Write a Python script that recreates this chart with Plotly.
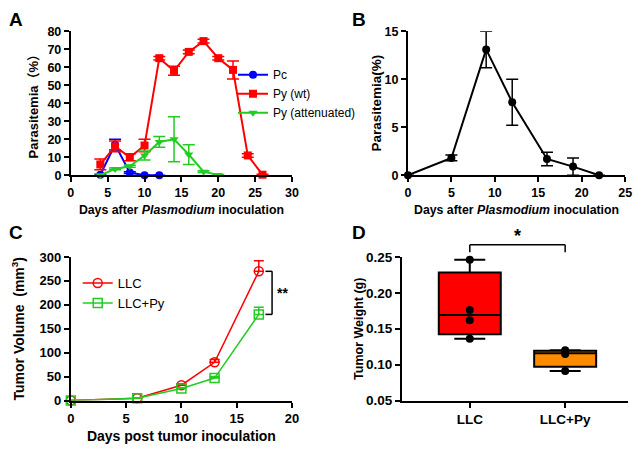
import numpy as np
import plotly.graph_objects as go

W, H = 642, 454

# ---------- Panel A data ----------
a_pc_x = [4, 6, 8, 10, 12]
a_pc_y = [0.3, 17, 1.5, 0, 0]
a_pc_e = [0.3, 3, 0.5, 0, 0]

a_wt_x = [4, 6, 8, 10, 12, 14, 16, 18, 20, 22, 24, 26]
a_wt_y = [6, 16, 10, 16.5, 65, 58, 68.5, 74.5, 65, 58.5, 11, 0.3]
a_wt_e = [3, 3, 2, 3.5, 1, 2.5, 1, 1, 1, 5, 1, 0.3]

a_at_x = [4, 6, 8, 10, 12, 14, 16, 18, 20]
a_at_y = [0, 3.5, 5, 11, 18.5, 20, 11.5, 2, 0.2]
a_at_e = [0, 0.5, 0.5, 2.5, 3, 12.5, 5.5, 0.5, 0.2]

# ---------- Panel B data ----------
b_x = [0, 5, 9, 12, 16, 19, 22]
b_y = [0, 1.8, 13.1, 7.6, 1.7, 0.9, 0]
b_e = [0, 0.3, 1.9, 2.4, 0.7, 0.9, 0]

# ---------- Panel C data ----------
c_x = [0, 6, 10, 13, 17]
c_llc = [0, 5, 32, 80, 270]
c_llc_e = [0, 1, 3, 6, 22]
c_py = [0, 5, 25, 47, 180]
c_py_e = [0, 1, 2, 3, 15]

# ---------- Panel D data ----------
d_llc = [0.246, 0.176, 0.162, 0.136]
d_py = [0.120, 0.117, 0.115, 0.091]
d_cats = ["LLC", "LLC+Py"]

RED = "#FF0000"
BLUE = "#0000FF"
GREEN = "#22CC22"
BLACK = "#000000"
ORANGE = "#FF8C00"

FONT = "Liberation Sans, Arial, Noto Sans CJK SC, sans-serif"

fig = go.Figure()

def err(vals, color, w=6, up_only=False):
    d = dict(type="data", array=vals, visible=True, color=color, thickness=1.5, width=w)
    if up_only:
        d["symmetric"] = False
        d["arrayminus"] = [0] * len(vals)
    return d

# Panel A
fig.add_trace(go.Scatter(x=a_pc_x, y=a_pc_y, error_y=err(a_pc_e, BLUE), mode="lines+markers",
                         name="Pc", line=dict(color=BLUE, width=2), marker=dict(symbol="circle", size=8, color=BLUE),
                         xaxis="x", yaxis="y", legend="legend", cliponaxis=False))
fig.add_trace(go.Scatter(x=a_wt_x, y=a_wt_y, error_y=err(a_wt_e, RED), mode="lines+markers",
                         name="Py (wt)", line=dict(color=RED, width=2), marker=dict(symbol="square", size=8, color=RED),
                         xaxis="x", yaxis="y", legend="legend", cliponaxis=False))
fig.add_trace(go.Scatter(x=a_at_x, y=a_at_y, error_y=err(a_at_e, GREEN), mode="lines+markers",
                         name="Py (attenuated)", line=dict(color=GREEN, width=2),
                         marker=dict(symbol="triangle-down", size=8, color=GREEN),
                         xaxis="x", yaxis="y", legend="legend", cliponaxis=False))

# Panel B
fig.add_trace(go.Scatter(x=b_x, y=b_y, error_y=err(b_e, BLACK), mode="lines+markers", showlegend=False,
                         line=dict(color=BLACK, width=2), marker=dict(symbol="circle", size=8, color=BLACK),
                         xaxis="x2", yaxis="y2", cliponaxis=False))

# Panel C
fig.add_trace(go.Scatter(x=c_x, y=c_llc, error_y=err(c_llc_e, RED, 5, True), mode="lines+markers",
                         name="LLC", line=dict(color=RED, width=1.5),
                         marker=dict(symbol="circle-open", size=9, color=RED, line=dict(width=1.5)),
                         xaxis="x3", yaxis="y3", legend="legend2", cliponaxis=False))
fig.add_trace(go.Scatter(x=c_x, y=c_py, error_y=err(c_py_e, GREEN, 5, True), mode="lines+markers",
                         name="LLC+Py", line=dict(color=GREEN, width=1.5),
                         marker=dict(symbol="square-open", size=9, color=GREEN, line=dict(width=1.5)),
                         xaxis="x3", yaxis="y3", legend="legend2", cliponaxis=False))

# Panel D (quartiles as GraphPad computes them: (n+1)p)
for vals, cat, col in [(d_llc, d_cats[0], RED), (d_py, d_cats[1], ORANGE)]:
    arr = np.array(vals)
    q1 = float(np.percentile(arr, 25, method="weibull"))
    q3 = float(np.percentile(arr, 75, method="weibull"))
    med = float(np.median(arr))
    fig.add_trace(go.Box(x=[cat], q1=[q1], median=[med], q3=[q3],
                         lowerfence=[float(arr.min())], upperfence=[float(arr.max())],
                         name=cat, showlegend=False, boxpoints=False,
                         fillcolor=col, line=dict(color=BLACK, width=2),
                         width=0.65, whiskerwidth=0.5, xaxis="x4", yaxis="y4"))
    fig.add_trace(go.Scatter(x=[cat] * len(vals), y=vals, mode="markers", showlegend=False,
                             marker=dict(color=BLACK, size=8), xaxis="x4", yaxis="y4", cliponaxis=False))

def tf(size):
    return dict(family=FONT, size=size, color=BLACK, weight="bold")

def ax(domain, rng, dtick=None, title=None, anchor=None, tsize=12, lsize=12, standoff=6):
    d = dict(domain=domain, range=rng, showgrid=False, zeroline=False, showline=True,
             linecolor=BLACK, linewidth=2, ticks="outside", ticklen=5, tickwidth=2, tickcolor=BLACK,
             tickfont=tf(tsize), anchor=anchor, fixedrange=True)
    if dtick is not None:
        d["dtick"] = dtick
        d["tick0"] = 0
    if title:
        d["title"] = dict(text=title, font=tf(lsize), standoff=standoff)
    return d

def px_x(p):
    return p / W

def px_y(p):
    return 1 - p / H

xa = [px_x(68), px_x(293)]
xb = [px_x(411), px_x(632)]
xc = [px_x(68), px_x(293)]
xd = [px_x(405), px_x(635)]
ytop = [px_y(174), px_y(25)]
ybot = [px_y(407), px_y(258.5)]

xtitle = "Days after <i>Plasmodium</i> inoculation"

fig.update_layout(
    width=W, height=H, margin=dict(l=0, r=0, t=0, b=0),
    paper_bgcolor="white", plot_bgcolor="white",
    font=dict(family=FONT, color=BLACK),
    xaxis=ax(xa, [0, 30], 5, xtitle, "y", 12.5, 12.3),
    yaxis=ax(ytop, [0, 80], 10, "Parasitemia（%）", "x", 12.5, 13),
    xaxis2=ax(xb, [0, 25], 5, xtitle, "y2", 12.5, 12.3),
    yaxis2=ax(ytop, [0, 15], 5, "Parasitemia(%)", "x2", 12.5, 13.5, 0),
    xaxis3=ax(xc, [0, 20], 5, "Days post tumor inoculation", "y3", 13, 14),
    yaxis3=ax(ybot, [0, 300], 50, "Tumor Volume  (mm<sup>3</sup>)", "x3", 13, 14, 12),
    xaxis4=dict(ax(xd, [-0.71, 1.66], None, None, "y4", 13.5, 12), type="category"),
    yaxis4=dict(ax(ybot, [0.05, 0.25], 0.05, "Tumor Weight (g)", "x4", 13.5, 12.5, 0), tickformat=".2f"),
    legend=dict(x=px_x(233), y=px_y(55), xanchor="left", yanchor="top", bgcolor="rgba(0,0,0,0)",
                font=dict(family=FONT, size=12, color=BLACK), tracegroupgap=0),
    legend2=dict(x=px_x(75), y=px_y(270), xanchor="left", yanchor="top", bgcolor="rgba(0,0,0,0)",
                 font=dict(family=FONT, size=13, color=BLACK), tracegroupgap=0),
)

# panel letters
for txt, x, y in [("A", 3, 0), ("B", 352, 0), ("C", 3, 220), ("D", 352, 220)]:
    fig.add_annotation(text=txt, x=px_x(x), y=px_y(y), xref="paper", yref="paper",
                       xanchor="left", yanchor="top", showarrow=False,
                       font=dict(family=FONT, size=19, color=BLACK, weight="bold"))

# helpers mapping data values to paper coords (for brackets outside plot areas)
def c_x_p(v):
    return xc[0] + (v / 20) * (xc[1] - xc[0])

def c_y_p(v):
    return ybot[0] + (v / 300) * (ybot[1] - ybot[0])

def d_x_p(i):
    return xd[0] + (i + 0.71) / 2.37 * (xd[1] - xd[0])

def d_y_p(v):
    return ybot[0] + (v - 0.05) / 0.2 * (ybot[1] - ybot[0])

# Panel C significance bracket
bx = c_x_p(18.2)
bx0 = c_x_p(17.6)
ln = dict(color=BLACK, width=1.5)
fig.add_shape(type="line", xref="paper", yref="paper", x0=bx, x1=bx, y0=c_y_p(c_py[-1]), y1=c_y_p(c_llc[-1]), line=ln)
fig.add_shape(type="line", xref="paper", yref="paper", x0=bx0, x1=bx, y0=c_y_p(c_llc[-1]), y1=c_y_p(c_llc[-1]), line=ln)
fig.add_shape(type="line", xref="paper", yref="paper", x0=bx0, x1=bx, y0=c_y_p(c_py[-1]), y1=c_y_p(c_py[-1]), line=ln)
fig.add_annotation(text="**", x=bx + 3 / W, y=c_y_p((c_llc[-1] + c_py[-1]) / 2), xref="paper", yref="paper",
                   xanchor="left", yanchor="middle", showarrow=False,
                   font=dict(family=FONT, size=14, color=BLACK, weight="bold"))

# Panel D significance bracket
ytopb = d_y_p(0.267)
ylow = d_y_p(0.2565)
fig.add_shape(type="line", xref="paper", yref="paper", x0=d_x_p(0), x1=d_x_p(1), y0=ytopb, y1=ytopb, line=ln)
fig.add_shape(type="line", xref="paper", yref="paper", x0=d_x_p(0), x1=d_x_p(0), y0=ylow, y1=ytopb, line=ln)
fig.add_shape(type="line", xref="paper", yref="paper", x0=d_x_p(1), x1=d_x_p(1), y0=ylow, y1=ytopb, line=ln)
fig.add_annotation(text="*", x=(d_x_p(0) + d_x_p(1)) / 2, y=ytopb - 3 / H, xref="paper", yref="paper",
                   xanchor="center", yanchor="bottom", showarrow=False,
                   font=dict(family=FONT, size=18, color=BLACK, weight="bold"))

fig.write_html("out.html")
